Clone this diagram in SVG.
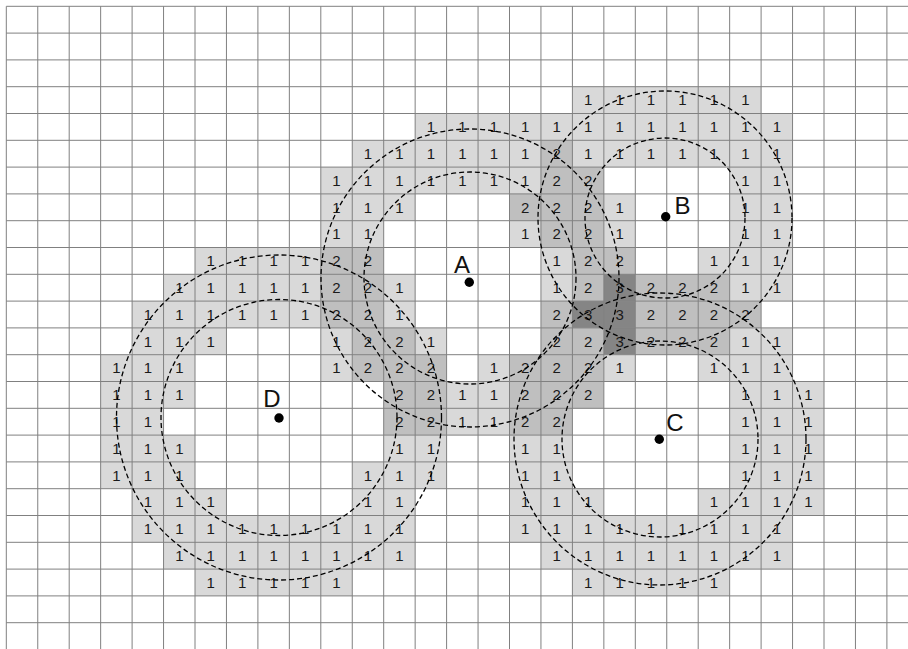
<svg xmlns="http://www.w3.org/2000/svg" width="908" height="649" viewBox="0 0 908 649">
<style>
.v1{fill:#d9d9d9}.v2{fill:#bfbfbf}.v3{fill:#858585}
.grid{fill:none;stroke:#808080;stroke-width:1}
.n text{font-family:"Liberation Sans",Arial,sans-serif;font-size:15px;fill:#1a1a1a;text-anchor:middle}
.ring{fill:none;stroke:#000;stroke-width:1.3;stroke-dasharray:5 3}
.dot{fill:#000}
.lbl{font-family:"Liberation Sans",Arial,sans-serif;font-size:24px;fill:#111;text-anchor:middle}
</style>
<rect width="908" height="649" fill="#fff"/>
<g id="cells">
<rect class="v1" x="572.4" y="86.7" width="188.7" height="26.8"/>
<rect class="v1" x="415.15" y="113.5" width="377.4" height="26.8"/>
<rect class="v1" x="352.25" y="140.3" width="188.7" height="26.8"/>
<rect class="v2" x="540.95" y="140.3" width="31.45" height="26.8"/>
<rect class="v1" x="572.4" y="140.3" width="220.15" height="26.8"/>
<rect class="v1" x="320.8" y="167.1" width="220.15" height="26.8"/>
<rect class="v2" x="540.95" y="167.1" width="62.9" height="26.8"/>
<rect class="v1" x="729.65" y="167.1" width="62.9" height="26.8"/>
<rect class="v1" x="320.8" y="193.9" width="94.35" height="26.8"/>
<rect class="v2" x="509.5" y="193.9" width="94.35" height="26.8"/>
<rect class="v1" x="603.85" y="193.9" width="31.45" height="26.8"/>
<rect class="v1" x="729.65" y="193.9" width="62.9" height="26.8"/>
<rect class="v1" x="320.8" y="220.7" width="62.9" height="26.8"/>
<rect class="v1" x="509.5" y="220.7" width="31.45" height="26.8"/>
<rect class="v2" x="540.95" y="220.7" width="62.9" height="26.8"/>
<rect class="v1" x="603.85" y="220.7" width="31.45" height="26.8"/>
<rect class="v1" x="729.65" y="220.7" width="62.9" height="26.8"/>
<rect class="v1" x="195" y="247.5" width="125.8" height="26.8"/>
<rect class="v2" x="320.8" y="247.5" width="62.9" height="26.8"/>
<rect class="v1" x="540.95" y="247.5" width="31.45" height="26.8"/>
<rect class="v2" x="572.4" y="247.5" width="62.9" height="26.8"/>
<rect class="v1" x="698.2" y="247.5" width="94.35" height="26.8"/>
<rect class="v1" x="163.55" y="274.3" width="157.25" height="26.8"/>
<rect class="v2" x="320.8" y="274.3" width="62.9" height="26.8"/>
<rect class="v1" x="383.7" y="274.3" width="31.45" height="26.8"/>
<rect class="v1" x="540.95" y="274.3" width="31.45" height="26.8"/>
<rect class="v2" x="572.4" y="274.3" width="31.45" height="26.8"/>
<rect class="v3" x="603.85" y="274.3" width="31.45" height="26.8"/>
<rect class="v2" x="635.3" y="274.3" width="94.35" height="26.8"/>
<rect class="v1" x="729.65" y="274.3" width="62.9" height="26.8"/>
<rect class="v1" x="132.1" y="301.1" width="188.7" height="26.8"/>
<rect class="v2" x="320.8" y="301.1" width="62.9" height="26.8"/>
<rect class="v1" x="383.7" y="301.1" width="31.45" height="26.8"/>
<rect class="v2" x="540.95" y="301.1" width="31.45" height="26.8"/>
<rect class="v3" x="572.4" y="301.1" width="62.9" height="26.8"/>
<rect class="v2" x="635.3" y="301.1" width="125.8" height="26.8"/>
<rect class="v1" x="132.1" y="327.9" width="94.35" height="26.8"/>
<rect class="v1" x="320.8" y="327.9" width="31.45" height="26.8"/>
<rect class="v2" x="352.25" y="327.9" width="62.9" height="26.8"/>
<rect class="v1" x="415.15" y="327.9" width="31.45" height="26.8"/>
<rect class="v2" x="540.95" y="327.9" width="62.9" height="26.8"/>
<rect class="v3" x="603.85" y="327.9" width="31.45" height="26.8"/>
<rect class="v2" x="635.3" y="327.9" width="94.35" height="26.8"/>
<rect class="v1" x="729.65" y="327.9" width="62.9" height="26.8"/>
<rect class="v1" x="100.65" y="354.7" width="94.35" height="26.8"/>
<rect class="v1" x="320.8" y="354.7" width="31.45" height="26.8"/>
<rect class="v2" x="352.25" y="354.7" width="94.35" height="26.8"/>
<rect class="v1" x="478.05" y="354.7" width="31.45" height="26.8"/>
<rect class="v2" x="509.5" y="354.7" width="94.35" height="26.8"/>
<rect class="v1" x="603.85" y="354.7" width="31.45" height="26.8"/>
<rect class="v1" x="698.2" y="354.7" width="94.35" height="26.8"/>
<rect class="v1" x="100.65" y="381.5" width="94.35" height="26.8"/>
<rect class="v2" x="383.7" y="381.5" width="62.9" height="26.8"/>
<rect class="v1" x="446.6" y="381.5" width="62.9" height="26.8"/>
<rect class="v2" x="509.5" y="381.5" width="94.35" height="26.8"/>
<rect class="v1" x="729.65" y="381.5" width="94.35" height="26.8"/>
<rect class="v1" x="100.65" y="408.3" width="62.9" height="26.8"/>
<rect class="v2" x="383.7" y="408.3" width="62.9" height="26.8"/>
<rect class="v1" x="446.6" y="408.3" width="62.9" height="26.8"/>
<rect class="v2" x="509.5" y="408.3" width="62.9" height="26.8"/>
<rect class="v1" x="729.65" y="408.3" width="94.35" height="26.8"/>
<rect class="v1" x="100.65" y="435.1" width="94.35" height="26.8"/>
<rect class="v1" x="383.7" y="435.1" width="62.9" height="26.8"/>
<rect class="v1" x="509.5" y="435.1" width="62.9" height="26.8"/>
<rect class="v1" x="729.65" y="435.1" width="94.35" height="26.8"/>
<rect class="v1" x="100.65" y="461.9" width="94.35" height="26.8"/>
<rect class="v1" x="352.25" y="461.9" width="94.35" height="26.8"/>
<rect class="v1" x="509.5" y="461.9" width="62.9" height="26.8"/>
<rect class="v1" x="729.65" y="461.9" width="94.35" height="26.8"/>
<rect class="v1" x="132.1" y="488.7" width="94.35" height="26.8"/>
<rect class="v1" x="352.25" y="488.7" width="62.9" height="26.8"/>
<rect class="v1" x="509.5" y="488.7" width="94.35" height="26.8"/>
<rect class="v1" x="698.2" y="488.7" width="125.8" height="26.8"/>
<rect class="v1" x="132.1" y="515.5" width="283.05" height="26.8"/>
<rect class="v1" x="509.5" y="515.5" width="283.05" height="26.8"/>
<rect class="v1" x="163.55" y="542.3" width="251.6" height="26.8"/>
<rect class="v1" x="540.95" y="542.3" width="251.6" height="26.8"/>
<rect class="v1" x="195" y="569.1" width="157.25" height="26.8"/>
<rect class="v1" x="572.4" y="569.1" width="157.25" height="26.8"/>
</g>
<path id="grid" class="grid" d="M6.3 6.3V649M37.75 6.3V649M69.2 6.3V649M100.65 6.3V649M132.1 6.3V649M163.55 6.3V649M195 6.3V649M226.45 6.3V649M257.9 6.3V649M289.35 6.3V649M320.8 6.3V649M352.25 6.3V649M383.7 6.3V649M415.15 6.3V649M446.6 6.3V649M478.05 6.3V649M509.5 6.3V649M540.95 6.3V649M572.4 6.3V649M603.85 6.3V649M635.3 6.3V649M666.75 6.3V649M698.2 6.3V649M729.65 6.3V649M761.1 6.3V649M792.55 6.3V649M824 6.3V649M855.45 6.3V649M886.9 6.3V649M6.3 6.3H908M6.3 33.1H908M6.3 59.9H908M6.3 86.7H908M6.3 113.5H908M6.3 140.3H908M6.3 167.1H908M6.3 193.9H908M6.3 220.7H908M6.3 247.5H908M6.3 274.3H908M6.3 301.1H908M6.3 327.9H908M6.3 354.7H908M6.3 381.5H908M6.3 408.3H908M6.3 435.1H908M6.3 461.9H908M6.3 488.7H908M6.3 515.5H908M6.3 542.3H908M6.3 569.1H908M6.3 595.9H908M6.3 622.7H908"/>
<g id="counts" class="n">
<g transform="translate(0,105.4)"><text x="588.1">1</text><text x="619.6">1</text><text x="651">1</text><text x="682.5">1</text><text x="713.9">1</text><text x="745.4">1</text></g>
<g transform="translate(0,132.2)"><text x="430.9">1</text><text x="462.3">1</text><text x="493.8">1</text><text x="525.2">1</text><text x="556.7">1</text><text x="588.1">1</text><text x="619.6">1</text><text x="651">1</text><text x="682.5">1</text><text x="713.9">1</text><text x="745.4">1</text><text x="776.8">1</text></g>
<g transform="translate(0,159)"><text x="368">1</text><text x="399.4">1</text><text x="430.9">1</text><text x="462.3">1</text><text x="493.8">1</text><text x="525.2">1</text><text x="556.7">2</text><text x="588.1">1</text><text x="619.6">1</text><text x="651">1</text><text x="682.5">1</text><text x="713.9">1</text><text x="745.4">1</text><text x="776.8">1</text></g>
<g transform="translate(0,185.8)"><text x="336.5">1</text><text x="368">1</text><text x="399.4">1</text><text x="430.9">1</text><text x="462.3">1</text><text x="493.8">1</text><text x="525.2">1</text><text x="556.7">2</text><text x="588.1">2</text><text x="745.4">1</text><text x="776.8">1</text></g>
<g transform="translate(0,212.6)"><text x="336.5">1</text><text x="368">1</text><text x="399.4">1</text><text x="525.2">2</text><text x="556.7">2</text><text x="588.1">2</text><text x="619.6">1</text><text x="745.4">1</text><text x="776.8">1</text></g>
<g transform="translate(0,239.4)"><text x="336.5">1</text><text x="368">1</text><text x="525.2">1</text><text x="556.7">2</text><text x="588.1">2</text><text x="619.6">1</text><text x="745.4">1</text><text x="776.8">1</text></g>
<g transform="translate(0,266.2)"><text x="210.7">1</text><text x="242.2">1</text><text x="273.6">1</text><text x="305.1">1</text><text x="336.5">2</text><text x="368">2</text><text x="556.7">1</text><text x="588.1">2</text><text x="619.6">2</text><text x="713.9">1</text><text x="745.4">1</text><text x="776.8">1</text></g>
<g transform="translate(0,293)"><text x="179.3">1</text><text x="210.7">1</text><text x="242.2">1</text><text x="273.6">1</text><text x="305.1">1</text><text x="336.5">2</text><text x="368">2</text><text x="399.4">1</text><text x="556.7">1</text><text x="588.1">2</text><text x="619.6">3</text><text x="651">2</text><text x="682.5">2</text><text x="713.9">2</text><text x="745.4">1</text><text x="776.8">1</text></g>
<g transform="translate(0,319.8)"><text x="147.8">1</text><text x="179.3">1</text><text x="210.7">1</text><text x="242.2">1</text><text x="273.6">1</text><text x="305.1">1</text><text x="336.5">2</text><text x="368">2</text><text x="399.4">1</text><text x="556.7">2</text><text x="588.1">3</text><text x="619.6">3</text><text x="651">2</text><text x="682.5">2</text><text x="713.9">2</text><text x="745.4">2</text></g>
<g transform="translate(0,346.6)"><text x="147.8">1</text><text x="179.3">1</text><text x="210.7">1</text><text x="336.5">1</text><text x="368">2</text><text x="399.4">2</text><text x="430.9">1</text><text x="556.7">2</text><text x="588.1">2</text><text x="619.6">3</text><text x="651">2</text><text x="682.5">2</text><text x="713.9">2</text><text x="745.4">1</text><text x="776.8">1</text></g>
<g transform="translate(0,373.4)"><text x="116.4">1</text><text x="147.8">1</text><text x="179.3">1</text><text x="336.5">1</text><text x="368">2</text><text x="399.4">2</text><text x="430.9">2</text><text x="493.8">1</text><text x="525.2">2</text><text x="556.7">2</text><text x="588.1">2</text><text x="619.6">1</text><text x="713.9">1</text><text x="745.4">1</text><text x="776.8">1</text></g>
<g transform="translate(0,400.2)"><text x="116.4">1</text><text x="147.8">1</text><text x="179.3">1</text><text x="399.4">2</text><text x="430.9">2</text><text x="462.3">1</text><text x="493.8">1</text><text x="525.2">2</text><text x="556.7">2</text><text x="588.1">2</text><text x="745.4">1</text><text x="776.8">1</text><text x="808.3">1</text></g>
<g transform="translate(0,427)"><text x="116.4">1</text><text x="147.8">1</text><text x="399.4">2</text><text x="430.9">2</text><text x="462.3">1</text><text x="493.8">1</text><text x="525.2">2</text><text x="556.7">2</text><text x="745.4">1</text><text x="776.8">1</text><text x="808.3">1</text></g>
<g transform="translate(0,453.8)"><text x="116.4">1</text><text x="147.8">1</text><text x="179.3">1</text><text x="399.4">1</text><text x="430.9">1</text><text x="525.2">1</text><text x="556.7">1</text><text x="745.4">1</text><text x="776.8">1</text><text x="808.3">1</text></g>
<g transform="translate(0,480.6)"><text x="116.4">1</text><text x="147.8">1</text><text x="179.3">1</text><text x="368">1</text><text x="399.4">1</text><text x="430.9">1</text><text x="525.2">1</text><text x="556.7">1</text><text x="745.4">1</text><text x="776.8">1</text><text x="808.3">1</text></g>
<g transform="translate(0,507.4)"><text x="147.8">1</text><text x="179.3">1</text><text x="210.7">1</text><text x="368">1</text><text x="399.4">1</text><text x="525.2">1</text><text x="556.7">1</text><text x="588.1">1</text><text x="713.9">1</text><text x="745.4">1</text><text x="776.8">1</text><text x="808.3">1</text></g>
<g transform="translate(0,534.2)"><text x="147.8">1</text><text x="179.3">1</text><text x="210.7">1</text><text x="242.2">1</text><text x="273.6">1</text><text x="305.1">1</text><text x="336.5">1</text><text x="368">1</text><text x="399.4">1</text><text x="525.2">1</text><text x="556.7">1</text><text x="588.1">1</text><text x="619.6">1</text><text x="651">1</text><text x="682.5">1</text><text x="713.9">1</text><text x="745.4">1</text><text x="776.8">1</text></g>
<g transform="translate(0,561)"><text x="179.3">1</text><text x="210.7">1</text><text x="242.2">1</text><text x="273.6">1</text><text x="305.1">1</text><text x="336.5">1</text><text x="368">1</text><text x="399.4">1</text><text x="556.7">1</text><text x="588.1">1</text><text x="619.6">1</text><text x="651">1</text><text x="682.5">1</text><text x="713.9">1</text><text x="745.4">1</text><text x="776.8">1</text></g>
<g transform="translate(0,587.8)"><text x="210.7">1</text><text x="242.2">1</text><text x="273.6">1</text><text x="305.1">1</text><text x="336.5">1</text><text x="588.1">1</text><text x="619.6">1</text><text x="651">1</text><text x="682.5">1</text><text x="713.9">1</text></g>
</g>
<g id="connectors"/>
<g id="A">
<circle class="ring" cx="470" cy="278" r="149"/>
<circle class="ring" cx="470" cy="278" r="106"/>
<circle class="dot" cx="469.3" cy="282.3" r="4.7"/>
<text class="lbl" x="462" y="272.7">A</text>
</g>
<g id="B">
<circle class="ring" cx="665" cy="218" r="127"/>
<circle class="ring" cx="665" cy="218" r="80"/>
<circle class="dot" cx="665.7" cy="216.7" r="4.7"/>
<text class="lbl" x="682.5" y="214">B</text>
</g>
<g id="C">
<circle class="ring" cx="660" cy="439" r="146"/>
<circle class="ring" cx="660" cy="439" r="98"/>
<circle class="dot" cx="659.3" cy="439.3" r="4.7"/>
<text class="lbl" x="675" y="430.7">C</text>
</g>
<g id="D">
<circle class="ring" cx="279" cy="417.5" r="162.5"/>
<circle class="ring" cx="279" cy="417.5" r="118"/>
<circle class="dot" cx="279" cy="418" r="4.7"/>
<text class="lbl" x="272" y="407">D</text>
</g>
</svg>
